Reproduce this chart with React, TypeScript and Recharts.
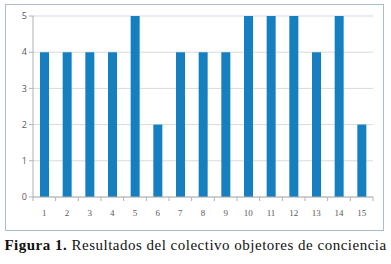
import React from "react";
import { BarChart, Bar, XAxis, YAxis, CartesianGrid } from "recharts";

const categories = ["1", "2", "3", "4", "5", "6", "7", "8", "9", "10", "11", "12", "13", "14", "15"];
const values = [4, 4, 4, 4, 5, 2, 4, 4, 4, 5, 5, 5, 4, 5, 2];
const yTicks = [0, 1, 2, 3, 4, 5];

const data = categories.map((c, i) => ({ name: c, value: values[i] }));

const axisColor = "#b0b0b0";
const labelColor = "#595959";

const XTick = (props: any) => {
  const { x, y, payload, index } = props;
  const half = payload && payload.offset ? payload.offset : 11.3;
  return (
    <g>
      <line x1={x - half} y1={y - 8} x2={x - half} y2={y - 4} stroke={axisColor} />
      {index === categories.length - 1 && (
        <line x1={x + half} y1={y - 8} x2={x + half} y2={y - 4} stroke={axisColor} />
      )}
      <text x={x} y={y + 11} textAnchor="middle" fontSize={9} fill={labelColor}>
        {payload.value}
      </text>
    </g>
  );
};

export default function App() {
  return (
    <div style={{ position: "absolute", left: 0, top: 0, width: 391, height: 264, background: "#fff" }}>
      <div
        style={{
          position: "absolute",
          left: 5,
          top: 4,
          width: 377,
          height: 225,
          border: "1px solid #a9bcd0",
        }}
      />
      <div style={{ position: "absolute", left: 0, top: 0 }}>
        <BarChart
          width={391}
          height={232}
          data={data}
          margin={{ top: 16, right: 18, bottom: 5, left: 13 }}
          barCategoryGap="0%"
        >
          <CartesianGrid vertical={false} stroke="#d9d9d9" />
          <XAxis
            dataKey="name"
            height={30}
            stroke={axisColor}
            tickLine={false}
            tick={<XTick />}
            interval={0}
            fontFamily="Open Sans, sans-serif"
          />
          <YAxis
            width={20}
            domain={[0, 5]}
            ticks={yTicks}
            stroke={axisColor}
            tickSize={4}
            tick={{ fontSize: 9, fill: labelColor, fontFamily: "Open Sans, sans-serif" }}
          />
          <Bar dataKey="value" fill="#157fc0" barSize={9} isAnimationActive={false} />
        </BarChart>
      </div>
      <div
        style={{
          position: "absolute",
          left: 0,
          top: 237,
          width: 391,
          textAlign: "center",
          fontFamily: "Liberation Serif, serif",
          fontSize: 15,
          letterSpacing: 0.5,
          color: "#111",
          whiteSpace: "nowrap",
        }}
      >
        <b>Figura 1.</b> Resultados del colectivo objetores de conciencia
      </div>
    </div>
  );
}
